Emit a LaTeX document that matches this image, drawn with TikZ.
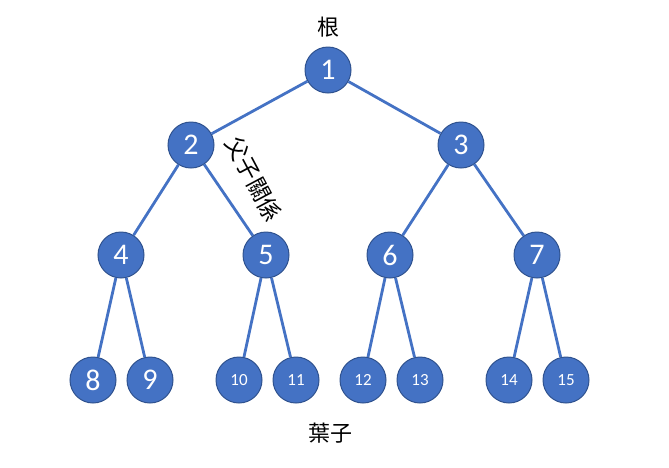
\documentclass[tikz,border=0pt]{standalone}
\usepackage{fontspec}
\setmainfont{Carlito}
\newfontfamily\cjk{Noto Sans CJK TC}
\definecolor{nodefill}{HTML}{4472C4}
\definecolor{nodeline}{HTML}{2F528F}
\begin{document}
\begin{tikzpicture}[x=1pt,y=-1pt,
  tn/.style={circle,fill=nodefill,draw=nodeline,line width=1pt,minimum size=46pt,inner sep=0pt,text=white,font=\fontsize{30}{30}\selectfont},
  tns/.style={tn,font=\fontsize{17}{17}\selectfont},
  edge/.style={draw=nodefill,line width=2.8pt},
  lbl/.style={font=\cjk\fontsize{22}{24}\selectfont,text=black}]
\useasboundingbox (0,0) rectangle (669,467);
\node[tn] (n1) at (328,70) {1};
\node[tn] (n2) at (191,145) {2};
\node[tn] (n3) at (461,145) {3};
\node[tn] (n4) at (121,255) {4};
\node[tn] (n5) at (266,255) {5};
\node[tn] (n6) at (390,255) {6};
\node[tn] (n7) at (537,255) {7};
\node[tn] (n8) at (93,380) {8};
\node[tn] (n9) at (150,380) {9};
\node[tns] (n10) at (239,380) {10};
\node[tns] (n11) at (296,380) {11};
\node[tns] (n12) at (363,380) {12};
\node[tns] (n13) at (420,380) {13};
\node[tns] (n14) at (509,380) {14};
\node[tns] (n15) at (566,380) {15};
\draw[edge] (n1) -- (n2);
\draw[edge] (n1) -- (n3);
\draw[edge] (n2) -- (n4);
\draw[edge] (n2) -- (n5);
\draw[edge] (n3) -- (n6);
\draw[edge] (n3) -- (n7);
\draw[edge] (n4) -- (n8);
\draw[edge] (n4) -- (n9);
\draw[edge] (n5) -- (n10);
\draw[edge] (n5) -- (n11);
\draw[edge] (n6) -- (n12);
\draw[edge] (n6) -- (n13);
\draw[edge] (n7) -- (n14);
\draw[edge] (n7) -- (n15);
\node[lbl] (root) at (328,27) {根};
\node[lbl] (leaf) at (330,433) {葉子};
\node[lbl,font=\cjk\fontsize{23}{24}\selectfont,rotate=-62] (rel) at (254,179) {父子關係};
\end{tikzpicture}
\end{document}
